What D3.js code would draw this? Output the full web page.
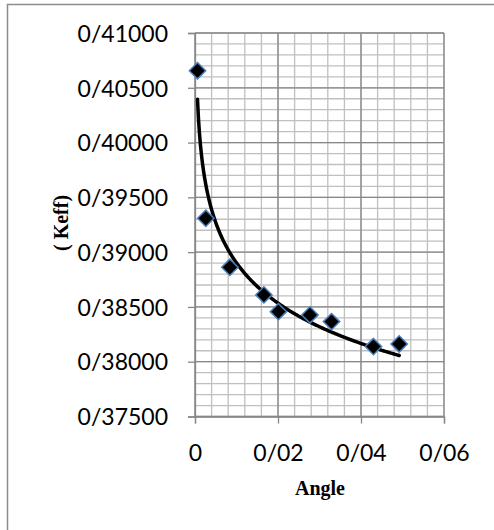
<!DOCTYPE html>
<meta charset="utf-8">
<title>Keff vs Angle</title>
<script src="https://d3js.org/d3.v7.min.js"></script>
<style>
  body { margin: 0; background: #fff; }
  .tick-label { font: 23px Lato, "Open Sans", sans-serif; fill: #000; }
  .axis-title { font: bold 20px "Liberation Serif", "Times New Roman", serif; fill: #000; }
</style>
<body>
<svg width="494" height="530"></svg>
<script>
  // data
  var angle = [0.0006, 0.0026, 0.0084, 0.0166, 0.0201, 0.0277, 0.0329, 0.0430, 0.0492];
  var keff  = [0.40656, 0.39309, 0.38862, 0.38610, 0.38457, 0.38427, 0.38366, 0.38138, 0.38162];
  var xTicks = [0, 0.02, 0.04, 0.06];
  var yTicks = [0.375, 0.38, 0.385, 0.39, 0.395, 0.40, 0.405, 0.41];

  var svg = d3.select("svg");

  // outer frame (only left and top edges visible)
  svg.append("path")
    .attr("d", "M7.5,530 V4.5 H494")
    .attr("fill", "none")
    .attr("stroke", "#8c8c8c")
    .attr("stroke-width", 1.5);

  var x = d3.scaleLinear().domain([0, 0.06]).range([195, 444]);
  var y = d3.scaleLinear().domain([0.375, 0.41]).range([416.5, 33]);

  var g = svg.append("g");

  // minor grid
  var xMinor = d3.range(0, 0.0601, 0.004), yMinor = d3.range(0.375, 0.41001, 0.001);
  g.selectAll(".xminor").data(xMinor).enter().append("line")
    .attr("x1", d => x(d)).attr("x2", d => x(d))
    .attr("y1", y(0.375)).attr("y2", y(0.41))
    .attr("stroke", "#c0c0c0").attr("stroke-width", 1.3);
  g.selectAll(".yminor").data(yMinor).enter().append("line")
    .attr("x1", x(0)).attr("x2", x(0.06))
    .attr("y1", d => y(d)).attr("y2", d => y(d))
    .attr("stroke", "#c0c0c0").attr("stroke-width", 1.3);

  // major grid
  g.selectAll(".xmajor").data(xTicks).enter().append("line")
    .attr("x1", d => x(d)).attr("x2", d => x(d))
    .attr("y1", y(0.375)).attr("y2", y(0.41))
    .attr("stroke", "#878787").attr("stroke-width", 1.3);
  g.selectAll(".ymajor").data(yTicks).enter().append("line")
    .attr("x1", x(0)).attr("x2", x(0.06))
    .attr("y1", d => y(d)).attr("y2", d => y(d))
    .attr("stroke", "#878787").attr("stroke-width", 1.3);

  // axes
  var yAxis = d3.axisLeft(y).tickValues(yTicks).tickSize(7)
    .tickFormat(d => "0/" + d3.format(".5f")(d).slice(2));
  var xAxis = d3.axisBottom(x).tickValues(xTicks).tickSize(7)
    .tickFormat(d => d === 0 ? "0" : "0/" + d3.format(".2f")(d).slice(2));

  var ya = svg.append("g").attr("transform", "translate(" + x(0) + ",0)").call(yAxis);
  var xa = svg.append("g").attr("transform", "translate(0," + y(0.375) + ")").call(xAxis);
  [ya, xa].forEach(function (a) {
    a.attr("font-size", null).attr("font-family", null);
    a.select(".domain").attr("stroke", "#878787").attr("stroke-width", 1.3);
    a.selectAll(".tick line").attr("stroke", "#878787").attr("stroke-width", 1.3);
    a.selectAll(".tick text").attr("class", "tick-label");
  });
  ya.selectAll(".tick text").attr("x", -27).attr("dy", "0.36em");
  xa.selectAll(".tick text").attr("y", 28.5);

  // logarithmic trend line (least squares on ln x)
  var lx = angle.map(Math.log), n = angle.length;
  var mx = d3.mean(lx), my = d3.mean(keff);
  var b = d3.sum(lx, (v, i) => (v - mx) * (keff[i] - my)) / d3.sum(lx, v => (v - mx) * (v - mx));
  var a = my - b * mx;
  var tx = d3.range(0, 201).map(i => angle[0] + (angle[n - 1] - angle[0]) * i / 200);
  var line = d3.line().x(d => x(d)).y(d => y(a + b * Math.log(d)));
  svg.append("path").datum(tx)
    .attr("d", line)
    .attr("fill", "none")
    .attr("stroke", "#000")
    .attr("stroke-width", 3.5)
    .attr("stroke-linecap", "round");

  // markers
  var sym = d3.symbol().type(d3.symbolDiamond2).size(170);
  svg.selectAll(".pt").data(angle).enter().append("path")
    .attr("transform", (d, i) => "translate(" + x(d) + "," + y(keff[i]) + ")")
    .attr("d", sym)
    .attr("fill", "#000")
    .attr("stroke", "#4a7ebb")
    .attr("stroke-width", 1.5);

  // axis titles
  svg.append("text").attr("class", "axis-title")
    .attr("x", 320).attr("y", 495).attr("text-anchor", "middle").text("Angle");
  svg.append("text").attr("class", "axis-title")
    .attr("transform", "translate(68,223) rotate(-90)")
    .attr("text-anchor", "middle").text("( Keff)");
</script>
</body>
